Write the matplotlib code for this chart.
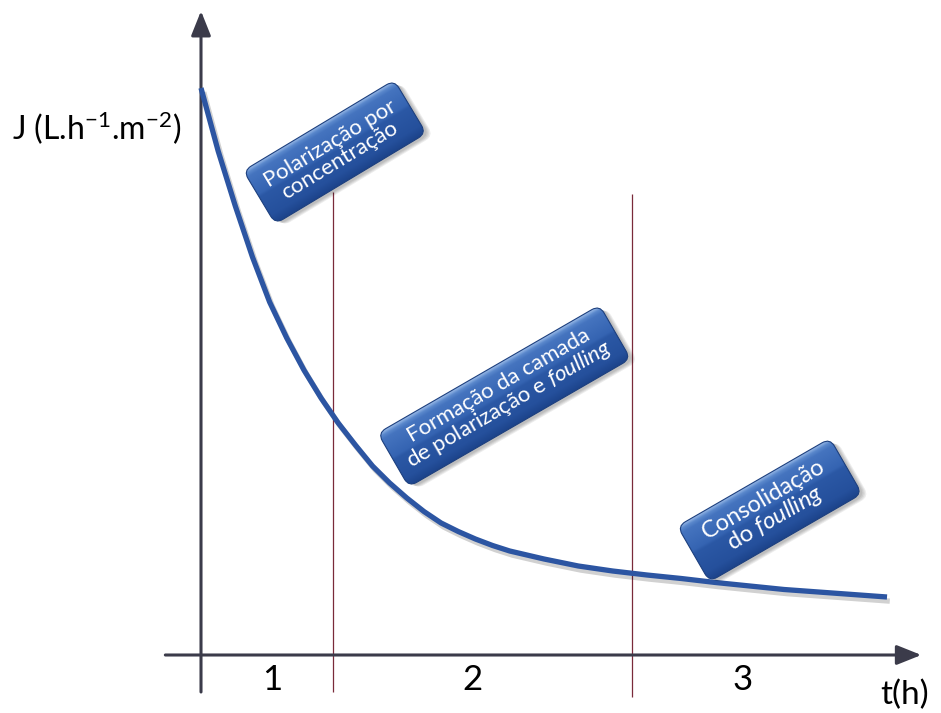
import numpy as np
import matplotlib.pyplot as plt
import matplotlib.patheffects as pe
from matplotlib.patches import FancyBboxPatch
from matplotlib.transforms import Affine2D
from matplotlib.colors import to_rgb

plt.rcParams['font.family'] = ['Lato', 'DejaVu Sans']
plt.rcParams['mathtext.fontset'] = 'custom'
plt.rcParams['mathtext.rm'] = 'Lato'
plt.rcParams['mathtext.it'] = 'Lato:italic'

# permeate flux decline over time (t in h, J in L.h-1.m-2)
t = [0, 0.25, 0.5, 0.75, 1.0, 1.25, 1.5, 1.75, 2.0, 2.25, 2.5, 2.75, 3.0, 3.25, 3.5, 3.75,
     4.0, 4.25, 4.5, 5.0, 5.5, 6.0, 6.5, 7.0, 7.5, 8.0, 8.5, 9.0, 9.5, 10.0]
J = [56.7, 50.4, 44.9, 39.8, 35.3, 31.7, 28.5, 25.7, 23.2, 21.0, 18.9, 17.2, 15.7, 14.35, 13.2, 12.35,
     11.6, 10.95, 10.4, 9.6, 8.9, 8.4, 8.0, 7.65, 7.25, 6.9, 6.55, 6.3, 6.05, 5.8]

phase_bounds = [1.92, 6.28]
phase_labels = ['1', '2', '3']
box_texts = ['Polarização por\nconcentração',
             'Formação da camada\nde polarização e $\\it{foulling}$',
             'Consolidação\ndo $\\it{foulling}$']

axis_color = '#3b3b4a'
curve_color = '#2c55a2'


def glossy_box(ax, x, y, w, h, angle, text, fs):
    cx, cy = ax.transData.transform((x, y))
    rot = Affine2D().rotate_deg(angle).translate(cx, cy)
    style = 'round,pad=0,rounding_size=9'
    # soft drop shadow
    for k in range(4):
        sh = FancyBboxPatch((-w / 2 + 2 + k, -h / 2 - 3 - k), w, h, boxstyle=style,
                            fc='k', ec='none', alpha=0.07, transform=rot, zorder=5)
        ax.add_patch(sh)
    box = FancyBboxPatch((-w / 2, -h / 2), w, h, boxstyle=style, fc='none',
                         ec='#1c3f7e', lw=0.8, transform=rot, zorder=7)
    ax.add_patch(box)
    # vertical gloss gradient, top row first
    pos = [0.0, 0.06, 0.12, 0.45, 0.5, 0.85, 1.0]
    cols = ['#9bbbe8', '#5a88cc', '#4574bf', '#3564b2', '#2b58a5', '#25509c', '#1c438a']
    rgb = np.array([to_rgb(c) for c in cols])
    s = np.linspace(0, 1, 120)
    grad = np.stack([np.interp(s, pos, rgb[:, i]) for i in range(3)], axis=-1)[:, None, :]
    im = ax.imshow(grad, extent=(-w / 2, w / 2, -h / 2, h / 2), transform=rot,
                   aspect='auto', interpolation='bilinear', zorder=6)
    im.set_clip_path(box)
    ax.text(x, y, text, rotation=angle, rotation_mode='anchor', ha='center', va='center',
            ma='center', color='white', fontsize=fs, linespacing=0.95, zorder=8)


fig = plt.figure(figsize=(9.41, 7.13), dpi=100)
ax = fig.add_axes([0, 0, 1, 1])
xlim = (-2.93, 10.787)
ylim = (-5.8, 65.5)
ax.set_xlim(*xlim)
ax.set_ylim(*ylim)
ax.axis('off')

# axes with arrow heads
arrow = dict(arrowstyle='-|>,head_length=0.75,head_width=0.3', color=axis_color,
             lw=2.2, shrinkA=0, shrinkB=0, mutation_scale=20)
ax.annotate('', xy=(0, 64.4), xytext=(0, -3.7), arrowprops=arrow, zorder=3)
ax.annotate('', xy=(10.5, 0), xytext=(-0.52, 0), arrowprops=arrow, zorder=3)

# phase boundaries
ax.vlines(phase_bounds, ymin=[-3.7, -4.2], ymax=[46.3, 46.1], color='#7a2a3a', lw=0.9, zorder=2)

ax.plot(t, J, color=curve_color, lw=3.8, solid_capstyle='butt', solid_joinstyle='round', zorder=4,
        path_effects=[pe.SimpleLineShadow(offset=(2, -3), shadow_color='k', alpha=0.18),
                      pe.Normal()])

for lab, xp in zip(phase_labels, [1.04, 3.95, 7.89]):
    ax.text(xp, -2.5, lab, ha='center', va='center', fontsize=25, color='black')
ax.text(10.25, -4.0, 't(h)', ha='center', va='center', fontsize=24, color='black')
ax.text(-2.76, 52.7, 'J (L.h$^{-1}$.m$^{-2}$)', ha='left', va='center', fontsize=23, color='black')

glossy_box(ax, 1.95, 50.3, 176, 62, 31, box_texts[0], 16)
glossy_box(ax, 4.42, 25.9, 256, 62, 30, box_texts[1], 16)
glossy_box(ax, 8.29, 14.5, 176, 64, 30, box_texts[2], 17)

ax.set_xlim(*xlim)
ax.set_ylim(*ylim)

fig.savefig('out.png', dpi=100)
